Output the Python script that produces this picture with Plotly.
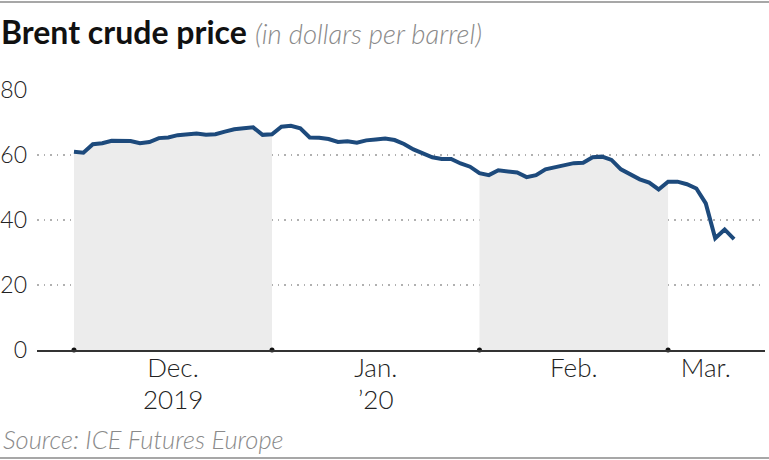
import plotly.graph_objects as go

# ---- data ----
dates = [
    "2019-12-02", "2019-12-03", "2019-12-04", "2019-12-05", "2019-12-06",
    "2019-12-09", "2019-12-10", "2019-12-11", "2019-12-12", "2019-12-13",
    "2019-12-16", "2019-12-17", "2019-12-18", "2019-12-19", "2019-12-20",
    "2019-12-23", "2019-12-24", "2019-12-26", "2019-12-27", "2019-12-30",
    "2019-12-31",
    "2020-01-02", "2020-01-03", "2020-01-06", "2020-01-07", "2020-01-08",
    "2020-01-09", "2020-01-10", "2020-01-13", "2020-01-14", "2020-01-15",
    "2020-01-16", "2020-01-17", "2020-01-20", "2020-01-21", "2020-01-22",
    "2020-01-23", "2020-01-24", "2020-01-27", "2020-01-28", "2020-01-29",
    "2020-01-30", "2020-01-31",
    "2020-02-03", "2020-02-04", "2020-02-05", "2020-02-06", "2020-02-07",
    "2020-02-10", "2020-02-11", "2020-02-12", "2020-02-13", "2020-02-14",
    "2020-02-17", "2020-02-18", "2020-02-19", "2020-02-20", "2020-02-21",
    "2020-02-24", "2020-02-25", "2020-02-26", "2020-02-27", "2020-02-28",
    "2020-03-02", "2020-03-03", "2020-03-04", "2020-03-05", "2020-03-06",
    "2020-03-09", "2020-03-10", "2020-03-11",
]
prices = [
    61.0, 60.7, 63.3, 63.6, 64.4, 64.3, 64.3, 63.6, 64.0, 65.2,
    65.4, 66.1, 66.3, 66.6, 66.2, 66.4, 67.2, 67.9, 68.2, 68.5, 66.2,
    66.4, 68.7, 69.0, 68.2, 65.4, 65.3, 64.9, 64.0, 64.2, 63.8,
    64.5, 64.8, 65.1, 64.6, 63.4, 61.7, 60.4, 59.3, 58.8, 58.8, 57.4, 56.4,
    54.4, 53.8, 55.3, 55.0, 54.6, 53.2, 53.8, 55.6, 56.2, 57.1,
    57.5, 57.6, 59.3, 59.5, 58.5, 55.6, 54.1, 52.5, 51.5, 49.4,
    51.8, 51.8, 51.0, 49.7, 45.1, 34.4, 37.1, 34.1,
]
month_labels = ["Dec.", "Jan.", "Feb.", "Mar."]
year_labels = ["2019", "\u201920", "", ""]
shaded_months = ["2019-12", "2020-02"]
y_ticks = [0, 20, 40, 60, 80]

# ---- derived positions (trading-day index axis) ----
n = len(dates)
idx = list(range(n))
months = [d[:7] for d in dates]
starts = [i for i in idx if i == 0 or months[i] != months[i - 1]]
bounds = starts + [n]
label_pos = [(bounds[k] + bounds[k + 1]) / 2 for k in range(len(starts))]

FONT = "Lato, 'Open Sans', sans-serif"
LINE_COLOR = "#1d4a7c"

fig = go.Figure()

# shaded alternate months (area under the line)
for m in shaded_months:
    k = [i for i in idx if months[i] == m]
    k = k + [k[-1] + 1] if k[-1] + 1 < n else k
    fig.add_trace(go.Scatter(
        x=k, y=[prices[i] for i in k], mode="lines",
        line=dict(width=0), fill="tozeroy", fillcolor="#ececec",
        hoverinfo="skip", showlegend=False,
    ))

# main price line
fig.add_trace(go.Scatter(
    x=idx, y=prices, mode="lines",
    line=dict(color=LINE_COLOR, width=4, shape="linear"),
    customdata=dates,
    hovertemplate="%{customdata}: $%{y:.2f}<extra></extra>",
    showlegend=False,
))

# month boundary dots on the baseline
fig.add_trace(go.Scatter(
    x=starts, y=[0] * len(starts), mode="markers",
    marker=dict(color="#111111", size=5),
    cliponaxis=False, hoverinfo="skip", showlegend=False,
))

W, H = 769, 460
ml, mr, mt, mb = 37, 4, 90, 110
pw, ph = W - ml - mr, H - mt - mb


def px_x(p):
    return (p - ml) / pw


def px_y(p):
    return (H - mb - p) / ph


TICK_FONT = dict(size=26, color="#222222", family=FONT, weight=300)

annotations = [
    dict(text=yl, xref="x", yref="paper", x=xp, y=px_y(399),
         xanchor="center", yanchor="middle", showarrow=False, font=TICK_FONT)
    for xp, yl in zip(label_pos, year_labels) if yl
]
annotations.append(dict(
    text="<i>Source: ICE Futures Europe</i>",
    xref="paper", yref="paper",
    x=px_x(1), y=px_y(439), xanchor="left", yanchor="middle",
    showarrow=False,
    font=dict(size=25.5, color="#8a8a8a", family=FONT, weight=300),
))

fig.update_layout(
    width=W, height=H,
    margin=dict(l=ml, r=mr, t=mt, b=mb, autoexpand=False),
    paper_bgcolor="white", plot_bgcolor="white",
    font=dict(family=FONT, color="#222222"),
    title=dict(
        text="<b>Brent crude price</b> "
             "<span style='font-size:27.5px;color:#8a8a8a;font-weight:300'><i>(in dollars per barrel)</i></span>",
        font=dict(size=32, color="#111111", family=FONT),
        xref="container", yref="container",
        x=1 / W, xanchor="left",
        y=1 - 32.5 / H, yanchor="middle",
        pad=dict(l=0, r=0, t=0, b=0),
    ),
    xaxis=dict(
        range=[-3.92, 73.28],
        tickvals=label_pos, ticktext=month_labels,
        tickfont=TICK_FONT,
        ticks="", showgrid=False, zeroline=False,
        showline=True, linecolor="#333333", linewidth=1.5,
        ticklabelstandoff=-6,
        automargin=False,
        fixedrange=True,
    ),
    yaxis=dict(
        range=[0, 80],
        tickvals=y_ticks,
        tickfont=dict(size=23, color="#222222", family=FONT, weight=300),
        ticks="", showgrid=True, gridcolor="#b0b0b0", gridwidth=1.5,
        griddash="1.5px,5px",
        zeroline=False, showline=False,
        ticklabelstandoff=9,
        automargin=False,
        fixedrange=True,
    ),
    annotations=annotations,
    shapes=[
        dict(type="line", xref="paper", yref="paper",
             x0=px_x(0), x1=px_x(W), y0=px_y(2), y1=px_y(2),
             line=dict(color="#8a8a8a", width=1.5)),
        dict(type="line", xref="paper", yref="paper",
             x0=px_x(0), x1=px_x(W), y0=px_y(458), y1=px_y(458),
             line=dict(color="#8a8a8a", width=1.5)),
    ],
)

fig.write_html(
    "out.html",
    config={"displayModeBar": False},
    post_script="document.body.style.margin='0';document.body.style.overflow='hidden';",
)
